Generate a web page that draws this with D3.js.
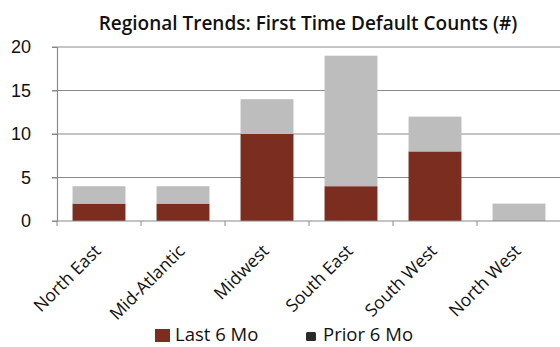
<!DOCTYPE html>
<html><head><meta charset="utf-8">
<script src="https://cdn.jsdelivr.net/npm/d3@7"></script>
<style>body{margin:0;background:#fff}svg{display:block;font-family:"Open Sans",sans-serif}</style>
</head><body><svg id="c" width="560" height="347"></svg>
<script>
const categories = ["North East","Mid-Atlantic","Midwest","South East","South West","North West"];
const last6 = [2,2,10,4,8,0];
const prior6 = [2,2,4,15,4,2];
const seriesNames = ["Last 6 Mo","Prior 6 Mo"];
const yTicks = [0,5,10,15,20];
const title = "Regional Trends: First Time Default Counts (#)";

const svg = d3.select("#c");
const m = {l:57, r:-1, t:47, b:126};
const W = 560, H = 347;
const x = d3.scaleBand().domain(categories).range([m.l, W - m.r]).paddingInner(0.37).paddingOuter(0.185);
const xb = d3.scaleBand().domain(categories).range([m.l, W - m.r]);
const y = d3.scaleLinear().domain([0,20]).range([H - m.b, m.t]);
const colors = ["#7b2e20","#bdbdbd"];

svg.append("text").attr("x",308).attr("y",30).attr("text-anchor","middle")
  .attr("font-size",19).attr("font-weight",600).attr("fill","#111").text(title);

// grid
svg.append("g").selectAll("line").data(yTicks.filter(d=>d>0)).join("line")
  .attr("x1",m.l-5).attr("x2",W).attr("y1",d=>y(d)).attr("y2",d=>y(d))
  .attr("stroke","#8a8a8a").attr("stroke-width",1.2);

const data = categories.map((c,i)=>({c, vals:[last6[i], prior6[i]]}));
const stack = d3.stack().keys([0,1]).value((d,k)=>d.vals[k])(data);
svg.append("g").selectAll("g").data(stack).join("g").attr("fill",(d,i)=>colors[i])
  .selectAll("rect").data(d=>d).join("rect")
  .attr("x",d=>x(d.data.c)).attr("width",x.bandwidth())
  .attr("y",d=>y(d[1])).attr("height",d=>y(d[0])-y(d[1]));

// y axis
const ya = svg.append("g").attr("transform",`translate(${m.l},0)`)
  .call(d3.axisLeft(y).tickValues(yTicks).tickSize(5).tickPadding(21));
ya.select(".domain").attr("stroke","#8a8a8a").attr("stroke-width",1.2);
ya.selectAll(".tick line").attr("stroke","#8a8a8a");
ya.selectAll("text").attr("font-size",18).attr("fill","#111");

// x axis
const xa = svg.append("g").attr("transform",`translate(0,${y(0)})`);
xa.append("line").attr("x1",m.l-5).attr("x2",W).attr("stroke","#8a8a8a").attr("stroke-width",1.2);
xa.selectAll("line.t").data(categories).join("line").attr("class","t")
  .attr("x1",d=>xb(d)).attr("x2",d=>xb(d)).attr("y1",0).attr("y2",5).attr("stroke","#8a8a8a");
xa.selectAll("text").data(categories).join("text")
  .attr("transform",d=>`translate(${xb(d)+xb.bandwidth()/2+3},31) rotate(-45)`)
  .attr("text-anchor","end").attr("font-size",17.5).attr("fill","#111").text(d=>d);

// legend
const lg = svg.append("g");
lg.append("rect").attr("x",155).attr("y",329).attr("width",15).attr("height",13).attr("fill",colors[0]);
lg.append("text").attr("x",175).attr("y",341).attr("font-size",18.5).attr("fill","#111").text(seriesNames[0]);
lg.append("rect").attr("x",306).attr("y",332).attr("width",10).attr("height",9).attr("rx",1.5).attr("fill","#2a2a2a");
lg.append("text").attr("x",323).attr("y",341).attr("font-size",18.5).attr("fill","#111").text(seriesNames[1]);
</script></body></html>
